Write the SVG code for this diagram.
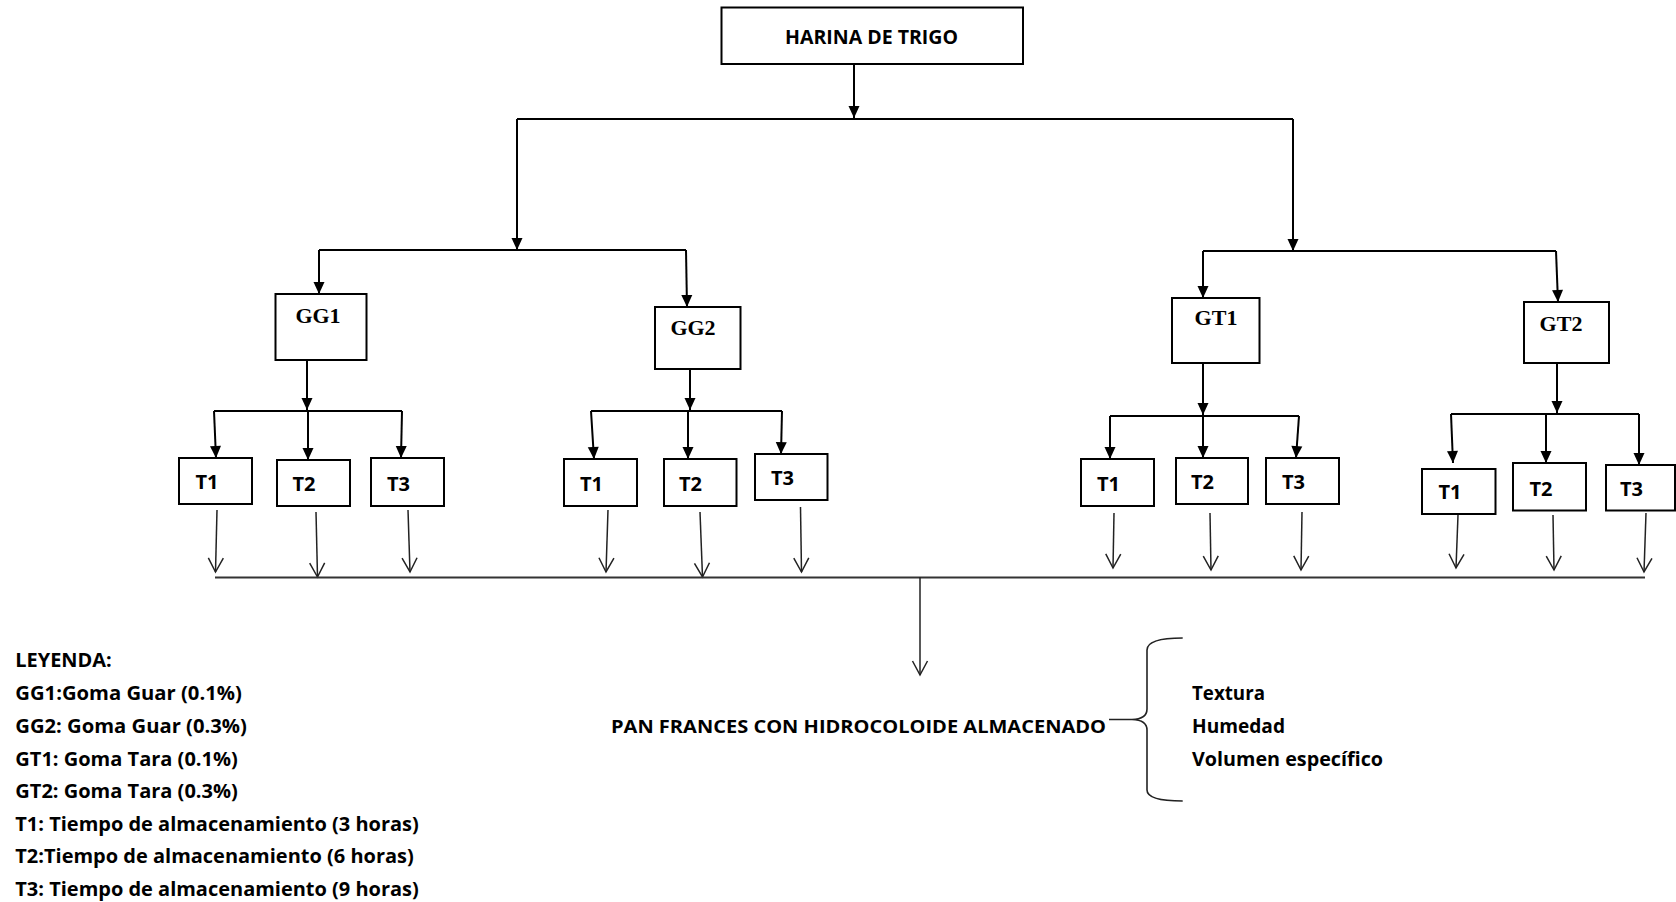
<svg xmlns="http://www.w3.org/2000/svg" width="1676" height="902" viewBox="0 0 1676 902">
<defs>
<marker id="fa" markerUnits="userSpaceOnUse" viewBox="-13 -7 14 14" markerWidth="14" markerHeight="14" refX="0" refY="0" orient="auto">
<path d="M-12,-5.5 L0,0 L-12,5.5 Z" fill="#000"/>
</marker>
<marker id="oa" markerUnits="userSpaceOnUse" viewBox="-16 -9 18 18" markerWidth="18" markerHeight="18" refX="0" refY="0" orient="auto">
<path d="M-14,-7.5 L0,0 L-14,7.5" fill="none" stroke="#222" stroke-width="1.5"/>
</marker>
<style>
.box{fill:#fff;stroke:#000;stroke-width:2}
.c{fill:none;stroke:#000;stroke-width:2}
.ca{fill:none;stroke:#000;stroke-width:2;marker-end:url(#fa)}
.co{fill:none;stroke:#222;stroke-width:1.5;marker-end:url(#oa)}
.s{font-family:"Open Sans",Lato,"Liberation Sans",sans-serif;font-weight:bold;font-size:18px;fill:#000}
.g{font-family:"Liberation Serif","Times New Roman",serif;font-weight:bold;font-size:22px;fill:#000;text-anchor:middle}
.t{font-family:"Open Sans",Lato,"Liberation Sans",sans-serif;font-weight:bold;font-size:20px;fill:#000}
.l{font-family:"Open Sans",Lato,"Liberation Sans",sans-serif;font-weight:bold;font-size:19px;fill:#000}
</style>
</defs>

<g id="connectors">
<path class="ca" d="M854,64 L854,118"/>
<path class="c" d="M517,119 L1293,119"/>
<path class="ca" d="M517,119 L517,250"/>
<path class="ca" d="M1293,119 L1293,251"/>
<path class="c" d="M319,250 L686,250"/>
<path class="ca" d="M319,250 L319,294"/>
<path class="ca" d="M686,250 L687,307"/>
<path class="c" d="M1203,251 L1556,251"/>
<path class="ca" d="M1203,251 L1203,298"/>
<path class="ca" d="M1556,251 L1558,302"/>

<path class="ca" d="M307,360 L307,410"/>
<path class="c" d="M214,411 L402,411"/>
<path class="ca" d="M214,411 L216,458"/>
<path class="ca" d="M308,411 L308,460"/>
<path class="ca" d="M402,411 L401,458"/>

<path class="ca" d="M690,369 L690,410"/>
<path class="c" d="M591,411 L782,411"/>
<path class="ca" d="M591,411 L594,459"/>
<path class="ca" d="M688,411 L688,459"/>
<path class="ca" d="M782,411 L781,454"/>

<path class="ca" d="M1203,363 L1203,415"/>
<path class="c" d="M1110,416 L1299,416"/>
<path class="ca" d="M1110,416 L1110,459"/>
<path class="ca" d="M1203,416 L1203,458"/>
<path class="ca" d="M1299,416 L1296,458"/>

<path class="ca" d="M1557,363 L1557,413"/>
<path class="c" d="M1451,414 L1639,414"/>
<path class="ca" d="M1451,414 L1453,463"/>
<path class="ca" d="M1546,414 L1546,463"/>
<path class="ca" d="M1639,414 L1639,465"/>

<path class="co" d="M217,510 L215.5,572"/>
<path class="co" d="M316,512 L317.5,577"/>
<path class="co" d="M408,510 L410,572"/>
<path class="co" d="M608,510 L606,572"/>
<path class="co" d="M700,512 L702.5,577"/>
<path class="co" d="M800.5,507 L801.5,572"/>
<path class="co" d="M1114,513 L1113,568"/>
<path class="co" d="M1210,513 L1211,570"/>
<path class="co" d="M1302,512 L1301,570"/>
<path class="co" d="M1458,515 L1456,568"/>
<path class="co" d="M1553,515 L1554,570"/>
<path class="co" d="M1646,513 L1644,572"/>
<path class="c" d="M215,577.5 L1645,577.5" style="stroke:#333"/>
<path class="co" d="M920,577 L920,675"/>

<path d="M1109,719.5 L1132,719.5 M1182.7,638 Q1147,638 1147,650 L1147,709 Q1147,719 1132,719.5 Q1147,720 1147,730 L1147,790 Q1147,801 1182.7,801" fill="none" stroke="#222" stroke-width="1.6"/>
</g>

<g id="harina"><rect class="box" x="721.5" y="7.5" width="301.5" height="56.5"/><text class="s" x="785" y="44.3" font-size="20" style="font-size:20px" textLength="173" lengthAdjust="spacingAndGlyphs">HARINA DE TRIGO</text></g>

<g id="gg1"><rect class="box" x="275.5" y="294" width="91" height="66"/><text class="g" x="318" y="322.5">GG1</text></g>
<g id="gg2"><rect class="box" x="655" y="307" width="85.5" height="62"/><text class="g" x="693" y="335">GG2</text></g>
<g id="gt1"><rect class="box" x="1172" y="298" width="87.5" height="65"/><text class="g" x="1216" y="325">GT1</text></g>
<g id="gt2"><rect class="box" x="1524" y="302" width="85" height="61"/><text class="g" x="1561" y="331">GT2</text></g>

<g id="gg1-t1"><rect class="box" x="179" y="458" width="73" height="46"/><text class="t" x="195.5" y="489">T1</text></g>
<g id="gg1-t2"><rect class="box" x="277" y="460" width="73" height="46"/><text class="t" x="292.5" y="490.5">T2</text></g>
<g id="gg1-t3"><rect class="box" x="371" y="458" width="73" height="48"/><text class="t" x="387" y="490.5">T3</text></g>
<g id="gg2-t1"><rect class="box" x="564" y="459" width="73" height="47"/><text class="t" x="580" y="490.5">T1</text></g>
<g id="gg2-t2"><rect class="box" x="664" y="459" width="72.5" height="47"/><text class="t" x="679" y="490.5">T2</text></g>
<g id="gg2-t3"><rect class="box" x="755" y="454" width="72.5" height="46"/><text class="t" x="771" y="485">T3</text></g>
<g id="gt1-t1"><rect class="box" x="1081" y="459" width="73" height="47"/><text class="t" x="1097" y="490.5">T1</text></g>
<g id="gt1-t2"><rect class="box" x="1176" y="458" width="72" height="46"/><text class="t" x="1191" y="489">T2</text></g>
<g id="gt1-t3"><rect class="box" x="1266" y="458" width="73" height="46"/><text class="t" x="1282" y="489">T3</text></g>
<g id="gt2-t1"><rect class="box" x="1422" y="469" width="73.5" height="45"/><text class="t" x="1438.5" y="499">T1</text></g>
<g id="gt2-t2"><rect class="box" x="1513" y="463" width="73" height="47.5"/><text class="t" x="1529.5" y="496">T2</text></g>
<g id="gt2-t3"><rect class="box" x="1606" y="465" width="69" height="45.5"/><text class="t" x="1620" y="496">T3</text></g>

<g id="pan"><text class="s" x="611" y="732.5" textLength="495" lengthAdjust="spacingAndGlyphs">PAN FRANCES CON HIDROCOLOIDE ALMACENADO</text></g>
<g id="properties">
<text class="l" x="1192" y="699.5" textLength="73" lengthAdjust="spacingAndGlyphs">Textura</text>
<text class="l" x="1192" y="732.5" textLength="93" lengthAdjust="spacingAndGlyphs">Humedad</text>
<text class="l" x="1192" y="765.5" textLength="191" lengthAdjust="spacingAndGlyphs">Volumen específico</text>
</g>

<g id="legend">
<text class="l" x="15.3" y="666.5" textLength="96.5" lengthAdjust="spacingAndGlyphs">LEYENDA:</text>
<text class="l" x="15.3" y="699.5" textLength="226.5" lengthAdjust="spacingAndGlyphs">GG1:Goma Guar (0.1%)</text>
<text class="l" x="15.3" y="732.5" textLength="231.5" lengthAdjust="spacingAndGlyphs">GG2: Goma Guar (0.3%)</text>
<text class="l" x="15.3" y="765.5" textLength="222.5" lengthAdjust="spacingAndGlyphs">GT1: Goma Tara (0.1%)</text>
<text class="l" x="15.3" y="798" textLength="222.5" lengthAdjust="spacingAndGlyphs">GT2: Goma Tara (0.3%)</text>
<text class="l" x="15.3" y="831" textLength="403.5" lengthAdjust="spacingAndGlyphs">T1: Tiempo de almacenamiento (3 horas)</text>
<text class="l" x="15.3" y="863" textLength="398.5" lengthAdjust="spacingAndGlyphs">T2:Tiempo de almacenamiento (6 horas)</text>
<text class="l" x="15.3" y="896" textLength="403.5" lengthAdjust="spacingAndGlyphs">T3: Tiempo de almacenamiento (9 horas)</text>
</g>
</svg>
